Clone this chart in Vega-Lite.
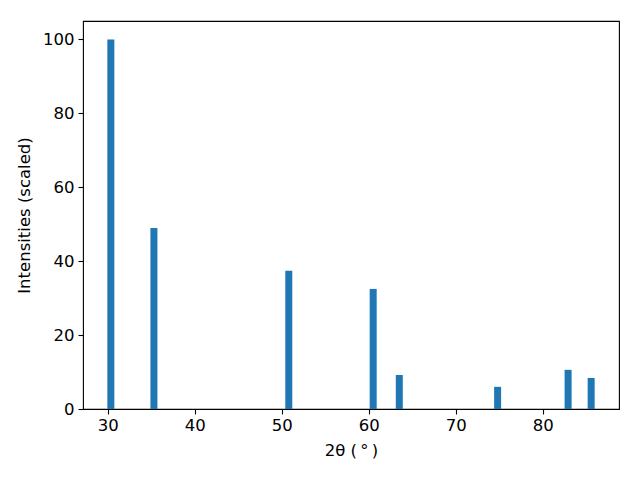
{
  "$schema": "https://vega.github.io/schema/vega-lite/v6.json",
  "autosize": {"type": "none"},
  "width": 536,
  "height": 388,
  "padding": {"left": 83, "top": 21, "right": 21, "bottom": 71},
  "background": "white",
  "config": {
    "font": "DejaVu Sans",
    "view": {"stroke": "black", "strokeWidth": 1.1},
    "axis": {
      "grid": false,
      "domain": false,
      "tickColor": "black",
      "tickSize": 5,
      "tickWidth": 1.1,
      "labelFont": "DejaVu Sans",
      "labelFontSize": 16.5,
      "labelColor": "black",
      "titleFont": "DejaVu Sans",
      "titleFontSize": 16.5,
      "titleFontWeight": "normal",
      "titleColor": "black"
    }
  },
  "data": {
    "values": [
      {"two_theta": 30.35, "intensity": 100},
      {"two_theta": 35.3, "intensity": 49.0},
      {"two_theta": 50.8, "intensity": 37.4},
      {"two_theta": 60.5, "intensity": 32.5},
      {"two_theta": 63.5, "intensity": 9.2},
      {"two_theta": 74.8, "intensity": 6.0},
      {"two_theta": 82.9, "intensity": 10.6},
      {"two_theta": 85.55, "intensity": 8.4}
    ]
  },
  "mark": {"type": "bar", "size": 7, "color": "#1f77b4"},
  "encoding": {
    "x": {
      "field": "two_theta",
      "type": "quantitative",
      "scale": {"domain": [27.15, 88.75], "nice": false, "zero": false, "padding": 0},
      "axis": {"values": [30, 40, 50, 60, 70, 80], "title": "2θ (\u2009°\u2009)", "labelPadding": 3, "titlePadding": 9}
    },
    "y": {
      "field": "intensity",
      "type": "quantitative",
      "scale": {"domain": [0, 105], "nice": false, "padding": 0},
      "axis": {"values": [0, 20, 40, 60, 80, 100], "title": "Intensities (scaled)", "labelPadding": 4, "titlePadding": 10}
    }
  }
}
